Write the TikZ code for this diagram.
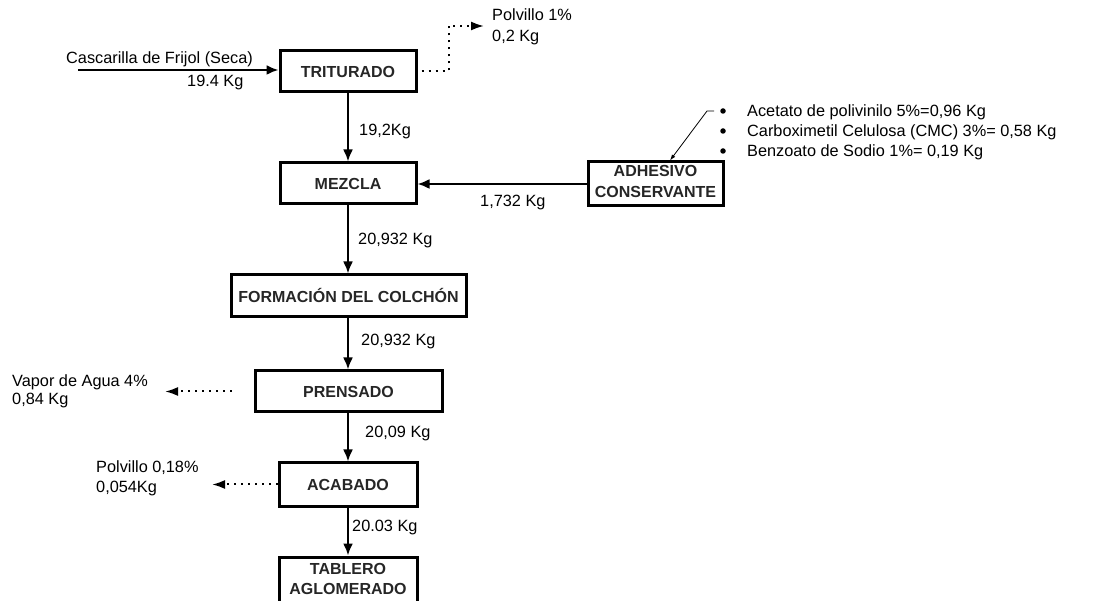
\documentclass[tikz,border=0pt]{standalone}
\usepackage{fontspec}
\setmainfont{Liberation Sans}
\usetikzlibrary{arrows.meta}
\begin{document}
\begin{tikzpicture}[x=1pt,y=-1pt,
  box/.style={draw, line width=3pt, inner sep=0pt},
  btxt/.style={font=\bfseries\fontsize{16}{21}\selectfont, inner sep=0pt, align=center, text=black!85},
  flow/.style={line width=2.2pt, -{Latex[length=12pt,width=10pt]}},
  waste/.style={line width=2pt, dash pattern=on 2pt off 5pt, -{Latex[length=13pt,width=9pt]}},
  lbl/.style={font=\fontsize{16.3}{20}\selectfont, inner sep=0pt},
  bul/.style={circle, fill, inner sep=0pt, minimum size=5.5pt}]
\useasboundingbox (0,0) rectangle (1109,601);
% boxes
\node[box, minimum width=136pt, minimum height=41pt] (trit) at (348,71.5) {};
\node[btxt, anchor=base] (tritT) at (348,78) {TRITURADO};
\node[box, minimum width=136pt, minimum height=41pt] (mez) at (348,183.5) {};
\node[btxt, anchor=base] (mezT) at (348,190) {MEZCLA};
\node[box, minimum width=135pt, minimum height=44pt] (adh) at (655.5,184) {};
\node[btxt, anchor=base] (adhT1) at (655.5,177) {ADHESIVO};
\node[btxt, anchor=base] (adhT2) at (655.5,198) {CONSERVANTE};
\node[box, minimum width=235pt, minimum height=42pt] (form) at (348.5,296) {};
\node[btxt, anchor=base] (formT) at (348.5,302.5) {FORMACIÓN DEL COLCHÓN};
\node[box, minimum width=187pt, minimum height=41pt] (pren) at (348.5,391.5) {};
\node[btxt, anchor=base] (prenT) at (348.5,398) {PRENSADO};
\node[box, minimum width=138pt, minimum height=43pt] (acab) at (348,484.5) {};
\node[btxt, anchor=base] (acabT) at (348,491) {ACABADO};
\node[box, minimum width=138pt, minimum height=60pt] (tabl) at (348,587) {};
\node[btxt, anchor=base] (tablT1) at (348,574) {TABLERO};
\node[btxt, anchor=base] (tablT2) at (348,594) {AGLOMERADO};
% labels
\node[lbl, anchor=base west] (casc) at (66,64) {Cascarilla de Frijol (Seca)};
\node[lbl, anchor=base west] (k194) at (187,87) {19.4 Kg};
\node[lbl, anchor=base west] (pol1) at (492,21) {Polvillo 1\%};
\node[lbl, anchor=base west] (pol1k) at (492,42) {0,2 Kg};
\node[lbl, anchor=base west] (k192) at (359,136) {19,2Kg};
\node[lbl, anchor=base west] (k1732) at (480,207) {1,732 Kg};
\node[lbl, anchor=base west] (k20932a) at (358,245) {20,932 Kg};
\node[lbl, anchor=base west] (k20932b) at (361,346) {20,932 Kg};
\node[lbl, anchor=base west] (vap) at (12,387) {Vapor de Agua 4\%};
\node[lbl, anchor=base west] (vapk) at (12,405) {0,84 Kg};
\node[lbl, anchor=base west] (k2009) at (365,438) {20,09 Kg};
\node[lbl, anchor=base west] (pol2) at (96,473) {Polvillo 0,18\%};
\node[lbl, anchor=base west] (pol2k) at (96,493) {0,054Kg};
\node[lbl, anchor=base west] (k2003) at (352,531) {20.03 Kg};
% bullets
\node[bul] (b1) at (723,111) {};
\node[bul] (b2) at (723,131) {};
\node[bul] (b3) at (723,151) {};
\node[lbl, anchor=base west] (t1) at (747,117) {Acetato de polivinilo 5\%=0,96 Kg};
\node[lbl, anchor=base west] (t2) at (747,137) {Carboximetil Celulosa (CMC) 3\%= 0,58 Kg};
\node[lbl, anchor=base west] (t3) at (747,157) {Benzoato de Sodio 1\%= 0,19 Kg};
% coordinates
\coordinate (in) at (78,70);
\coordinate (polTip) at (484,26);
\coordinate (vapTip) at (165,392);
\coordinate (pol2Tip) at (212,483);
% connectors
\draw[flow] (in) -- (trit.west |- in);
\draw[flow] (trit) -- (mez);
\draw[flow] (adh.west) -- (mez.east |- adh.west);
\draw[flow] (mez.south) -- (mez.south |- form.north);
\draw[flow] (form.south -| mez.south) -- (mez.south |- pren.north);
\draw[flow] (pren.south -| mez.south) -- (acab.north);
\draw[flow] (acab) -- (tabl);
\draw[waste] ([xshift=4pt]trit.east) -- ++(27,0) |- (polTip);
\draw[waste] ([xshift=-22pt]pren.west) -- (vapTip |- pren.west);
\draw[waste] (acab.west) -- (pol2Tip |- acab.west);
\draw[line width=0.8pt, -{Latex[length=6pt,width=4pt]}] ([xshift=-6pt]b1.west) -- (707,111) -- ([xshift=14.5pt]adh.north);
\end{tikzpicture}
\end{document}
